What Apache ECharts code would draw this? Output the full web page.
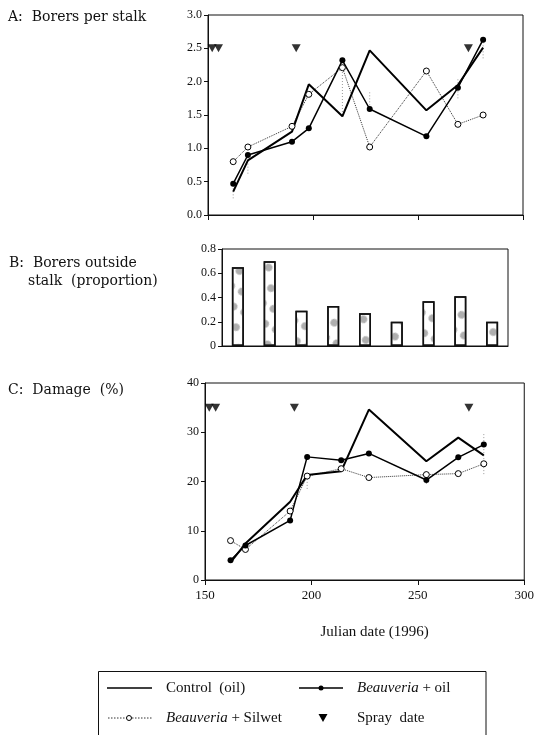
<!DOCTYPE html>
<html>
<head>
<meta charset="UTF-8">
<title>Borers and damage 1996</title>
<script src="https://cdn.jsdelivr.net/npm/echarts@6/dist/echarts.min.js"></script>
<style>
    body { margin: 0; padding: 0; background: #fff; }
    #main { width: 537px; height: 735px; }
</style>
</head>
<body>
<div id="main"></div>
<script type="text/javascript">
// sampling dates (julian day) and spray dates
var sampleDates = [162, 169, 190, 198, 214, 227, 254, 269, 281];
var sprayDates = [152, 155, 192, 274];
var sprayLevelA = 2.5;
var sprayLevelC = 35;

// A: borers per stalk
var borersControl = [0.35, 0.82, 1.25, 1.96, 1.48, 2.47, 1.57, 1.95, 2.51];
var borersOil = [0.47, 0.90, 1.10, 1.30, 2.32, 1.59, 1.18, 1.91, 2.63];
var borersSilwet = [0.80, 1.02, 1.33, 1.81, 2.21, 1.02, 2.16, 1.36, 1.50];
// faint error bars [date, low, high]
var borersErr = [[162, 0.25, 0.5], [169, 0.62, 0.9], [214, 1.5, 2.2], [227, 1.6, 1.85], [269, 1.75, 2.05], [281, 2.35, 2.65]];

// B: borers outside stalk (proportion)
var outsideProp = [0.65, 0.70, 0.29, 0.33, 0.27, 0.20, 0.37, 0.41, 0.20];

// C: damage (%)
var damageControl = [3.6, 7.4, 15.9, 21.3, 22.1, 34.6, 24.1, 28.9, 25.3];
var damageOil = [4.0, 7.0, 12.1, 25.0, 24.3, 25.7, 20.3, 24.9, 27.5];
var damageSilwet = [8.0, 6.2, 14.0, 21.1, 22.6, 20.8, 21.4, 21.6, 23.6];
var damageErr = [[198, 18.5, 21.3], [254, 19.5, 22.5], [281, 21.5, 30]];

var ticksA = [0, 0.5, 1.0, 1.5, 2.0, 2.5, 3.0];
var ticksB = [0, 0.2, 0.4, 0.6, 0.8];
var ticksC = [0, 10, 20, 30, 40];
var ticksX = [150, 200, 250, 300];

function pairs(xs, ys) {
    var out = [];
    for (var i = 0; i < xs.length; i++) out.push([xs[i], ys[i]]);
    return out;
}
function level(xs, y) {
    var out = [];
    for (var i = 0; i < xs.length; i++) out.push([xs[i], y]);
    return out;
}

var serif = 'Liberation Serif';
var titleFont = '14px "DejaVu Serif"';

function valueX(idx, showLabel) {
    return {
        type: 'value', gridIndex: idx,
        min: ticksX[0], max: ticksX[ticksX.length - 1], interval: 50,
        axisLine: { lineStyle: { color: '#111', width: 1 } },
        axisTick: { inside: false, length: 5, lineStyle: { color: '#111' } },
        axisLabel: { show: showLabel, color: '#111', fontFamily: serif, fontSize: 13, margin: 9 },
        splitLine: { show: false }
    };
}
function valueY(idx, ticks, fmt) {
    return {
        type: 'value', gridIndex: idx,
        min: ticks[0], max: ticks[ticks.length - 1], interval: ticks[1] - ticks[0],
        axisLine: { show: true, lineStyle: { color: '#111', width: 1 } },
        axisTick: { show: true, inside: false, length: 4, lineStyle: { color: '#111' } },
        axisLabel: { color: '#111', fontFamily: serif, fontSize: 12, margin: 6, formatter: fmt },
        splitLine: { show: false }
    };
}
function errorBars(xIdx, yIdx, data) {
    return {
        type: 'custom', xAxisIndex: xIdx, yAxisIndex: yIdx, data: data, z: 1, silent: true,
        renderItem: function (params, api) {
            var lo = api.coord([api.value(0), api.value(1)]);
            var hi = api.coord([api.value(0), api.value(2)]);
            return { type: 'line', shape: { x1: lo[0], y1: lo[1], x2: hi[0], y2: hi[1] },
                     style: { stroke: '#999', lineWidth: 1, lineDash: [1, 2] } };
        }
    };
}

var controlLine = { color: '#000', width: 2 };
var oilLine = { color: '#000', width: 1.5 };
var silwetLine = { color: '#333', width: 1, type: 'dotted' };

var myChart = echarts.init(document.getElementById('main'));
var option = {
    animation: false,
    backgroundColor: '#fff',
    grid: [
        { left: 208, right: 14, top: 15, height: 200, show: true, borderColor: '#111', borderWidth: 1 },
        { left: 222, right: 29, top: 249, height: 97, show: true, borderColor: '#111', borderWidth: 1 },
        { left: 205, right: 12, top: 383, height: 197, show: true, borderColor: '#111', borderWidth: 1 }
    ],
    xAxis: [
        valueX(0, false),
        {
            type: 'category', gridIndex: 1, data: sampleDates.map(String),
            axisLine: { lineStyle: { color: '#111', width: 1 } },
            axisTick: { alignWithLabel: true, length: 4, lineStyle: { color: '#111' } },
            axisLabel: { show: false }
        },
        (function () {
            var ax = valueX(2, true);
            ax.name = 'Julian date (1996)';
            ax.nameLocation = 'middle';
            ax.nameGap = 45;
            ax.nameTextStyle = { color: '#111', fontFamily: serif, fontSize: 15, padding: [0, 0, 0, 20] };
            return ax;
        })()
    ],
    yAxis: [
        valueY(0, ticksA, function (v) { return v.toFixed(1); }),
        valueY(1, ticksB, function (v) { return v === 0 ? '0' : v.toFixed(1); }),
        valueY(2, ticksC, function (v) { return String(v); })
    ],
    series: [
        // panel A
        errorBars(0, 0, borersErr),
        { name: 'Beauveria + Silwet', type: 'line', xAxisIndex: 0, yAxisIndex: 0, data: pairs(sampleDates, borersSilwet),
          lineStyle: silwetLine, symbol: 'circle', symbolSize: 6,
          itemStyle: { color: '#fff', borderColor: '#000', borderWidth: 1 } },
        { name: 'Control (oil)', type: 'line', xAxisIndex: 0, yAxisIndex: 0, data: pairs(sampleDates, borersControl),
          lineStyle: controlLine, symbol: 'none' },
        { name: 'Beauveria + oil', type: 'line', xAxisIndex: 0, yAxisIndex: 0, data: pairs(sampleDates, borersOil),
          lineStyle: oilLine, symbol: 'circle', symbolSize: 6, itemStyle: { color: '#000' } },
        { name: 'Spray date', type: 'scatter', xAxisIndex: 0, yAxisIndex: 0, data: level(sprayDates, sprayLevelA),
          symbol: 'triangle', symbolRotate: 180, symbolSize: [9, 8], itemStyle: { color: '#000' }, clip: false },
        // panel B
        { name: 'Outside', type: 'bar', xAxisIndex: 1, yAxisIndex: 1, data: outsideProp, barWidth: 12,
          itemStyle: {
              color: '#fff', borderColor: '#111', borderWidth: 1.5,
              decal: { symbol: 'circle', symbolSize: 0.95, color: 'rgba(120,120,120,0.6)',
                       dashArrayX: [[8, 4]], dashArrayY: [8, 9], rotation: 0.5 }
          } },
        // panel C
        errorBars(2, 2, damageErr),
        { name: 'Beauveria + Silwet', type: 'line', xAxisIndex: 2, yAxisIndex: 2, data: pairs(sampleDates, damageSilwet),
          lineStyle: silwetLine, symbol: 'circle', symbolSize: 6,
          itemStyle: { color: '#fff', borderColor: '#000', borderWidth: 1 } },
        { name: 'Control (oil)', type: 'line', xAxisIndex: 2, yAxisIndex: 2, data: pairs(sampleDates, damageControl),
          lineStyle: controlLine, symbol: 'none' },
        { name: 'Beauveria + oil', type: 'line', xAxisIndex: 2, yAxisIndex: 2, data: pairs(sampleDates, damageOil),
          lineStyle: oilLine, symbol: 'circle', symbolSize: 6, itemStyle: { color: '#000' } },
        { name: 'Spray date', type: 'scatter', xAxisIndex: 2, yAxisIndex: 2, data: level(sprayDates, sprayLevelC),
          symbol: 'triangle', symbolRotate: 180, symbolSize: [9, 8], itemStyle: { color: '#000' }, clip: false }
    ],
    graphic: [
        // panel titles
        { type: 'text', x: 8, y: 17, style: { text: 'A:  Borers per stalk', fill: '#111', font: titleFont, verticalAlign: 'middle' } },
        { type: 'text', x: 9, y: 263, style: { text: 'B:  Borers outside', fill: '#111', font: titleFont, verticalAlign: 'middle' } },
        { type: 'text', x: 28, y: 281, style: { text: 'stalk  (proportion)', fill: '#111', font: titleFont, verticalAlign: 'middle' } },
        { type: 'text', x: 8, y: 390, style: { text: 'C:  Damage  (%)', fill: '#111', font: titleFont, verticalAlign: 'middle' } },
        // legend box
        { type: 'rect', shape: { x: 98.5, y: 671.5, width: 387.5, height: 100 }, style: { fill: 'none', stroke: '#111', lineWidth: 1 } },
        { type: 'line', shape: { x1: 107, y1: 688, x2: 152, y2: 688 }, style: { stroke: '#000', lineWidth: 1.5 } },
        { type: 'text', x: 166, y: 688, style: { text: 'Control  (oil)', fill: '#111', font: '15px "Liberation Serif"', verticalAlign: 'middle' } },
        { type: 'line', shape: { x1: 299, y1: 688, x2: 343, y2: 688 }, style: { stroke: '#000', lineWidth: 1.5 } },
        { type: 'circle', shape: { cx: 321, cy: 688, r: 2.5 }, style: { fill: '#000' } },
        { type: 'text', x: 357, y: 688, style: { text: '{i|Beauveria} + oil', fill: '#111', font: '15px "Liberation Serif"', verticalAlign: 'middle',
          rich: { i: { fontStyle: 'italic', fontFamily: serif, fontSize: 15 } } } },
        { type: 'line', shape: { x1: 108, y1: 718, x2: 152, y2: 718 }, style: { stroke: '#333', lineWidth: 1, lineDash: [1.5, 1.5] } },
        { type: 'circle', shape: { cx: 129, cy: 718, r: 2.5 }, style: { fill: '#fff', stroke: '#000', lineWidth: 1 } },
        { type: 'text', x: 166, y: 718, style: { text: '{i|Beauveria} + Silwet', fill: '#111', font: '15px "Liberation Serif"', verticalAlign: 'middle',
          rich: { i: { fontStyle: 'italic', fontFamily: serif, fontSize: 15 } } } },
        { type: 'polygon', shape: { points: [[318.5, 714], [327.5, 714], [323, 722]] }, style: { fill: '#000' } },
        { type: 'text', x: 357, y: 718, style: { text: 'Spray  date', fill: '#111', font: '15px "Liberation Serif"', verticalAlign: 'middle' } }
    ]
};
myChart.setOption(option);
</script>
</body>
</html>
